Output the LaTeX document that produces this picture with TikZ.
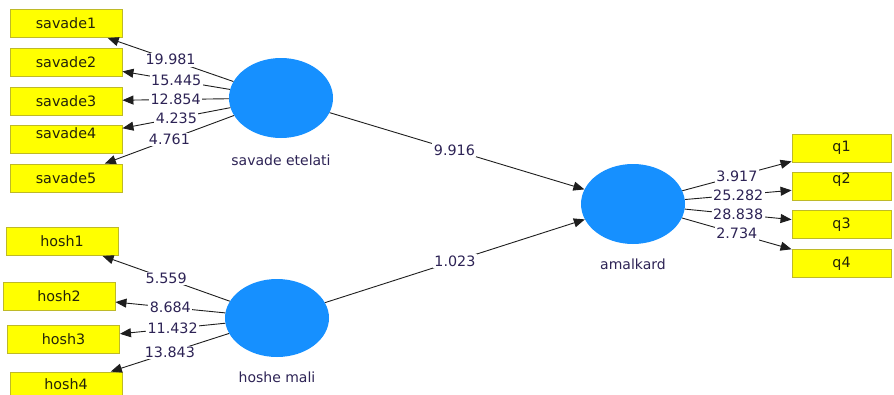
\documentclass[tikz,border=0pt]{standalone}
\usepackage{fontspec}
\setmainfont{DejaVu Sans}
\usetikzlibrary{shapes.geometric,arrows.meta}
\definecolor{boxfill}{RGB}{255,255,0}
\definecolor{boxline}{RGB}{190,185,40}
\definecolor{lvblue}{RGB}{22,144,255}
\definecolor{numcol}{RGB}{45,35,85}
\definecolor{boxtext}{RGB}{35,35,10}
\definecolor{linecol}{RGB}{30,30,30}
\begin{document}
\begin{tikzpicture}[x=1pt,y=-1pt,
  ind/.style={draw=boxline, fill=boxfill, line width=0.9pt, minimum height=28pt,
    inner sep=0pt, font=\fontsize{14.3pt}{16pt}\selectfont, text=boxtext},
  indl/.style={ind, minimum width=112pt},
  indr/.style={ind, minimum width=99pt},
  lv/.style={ellipse, fill=lvblue, draw=none, minimum width=104pt, minimum height=80pt, inner sep=0pt},
  lvname/.style={font=\fontsize{14pt}{16pt}\selectfont, text=numcol, inner sep=0pt},
  num/.style={fill=white, inner sep=1.5pt, font=\fontsize{14.3pt}{16pt}\selectfont, text=numcol},
  arr/.style={draw=linecol, line width=0.9pt, -{Triangle[length=11pt,width=9pt]}}
]
\useasboundingbox (0,0) rectangle (894,394);
\clip (0,0) rectangle (894,394);
\fill[white] (0,0) rectangle (894,394);

% indicator boxes, left top
\node[indl] (s1) at (66,23.5) {savade1};
\node[indl] (s2) at (66,62) {savade2};
\node[indl] (s3) at (66,101) {savade3};
\node[indl] (s4) at (66,139) {\raisebox{6pt}[\height][\depth]{savade4}};
\node[indl] (s5) at (66,178) {savade5};

% indicator boxes, left bottom
\node[indl] (h1) at (62,241.5) {hosh1};
\node[indl] (h2) at (59,296.5) {hosh2};
\node[indl] (h3) at (63.5,339.5) {hosh3};
\node[indl] (h4) at (66,386) {\raisebox{2pt}[\height][\depth]{hosh4}};

% indicator boxes, right
\node[indr] (q1) at (841.5,148) {q1};
\node[indr] (q2) at (841.5,186) {\raisebox{6pt}[\height][\depth]{q2}};
\node[indr] (q3) at (841.5,224.5) {q3};
\node[indr] (q4) at (841.5,263.5) {q4};

% latent variables
\node[lv] (se) at (281,98) {};
\node[lv, minimum height=78pt] (hm) at (277,318) {};
\node[lv] (am) at (633,204) {};
\node[lvname] (sel) at (281,160) {savade etelati};
\node[lvname] (hml) at (277,377) {hoshe mali};
\node[lvname] (aml) at (633,264) {amalkard};

% outer loadings
\draw[arr] (se) -- node[num]{19.981} (s1);
\draw[arr] (se) -- node[num]{15.445} (s2);
\draw[arr] (se) -- node[num]{12.854} (s3);
\draw[arr] (se) -- node[num]{4.235} (s4);
\draw[arr] (se) -- node[num]{4.761} (s5);

\draw[arr] (hm) -- node[num]{5.559} (h1);
\draw[arr] (hm) -- node[num]{8.684} (h2);
\draw[arr] (hm) -- node[num]{11.432} (h3);
\draw[arr] (hm) -- node[num]{13.843} (h4);

\draw[arr] (am) -- node[num]{3.917} (q1);
\draw[arr] (am) -- node[num]{25.282} (q2);
\draw[arr] (am) -- node[num]{28.838} (q3);
\draw[arr] (am) -- node[num]{2.734} (q4);

% inner paths
\draw[arr] (se) -- node[num, pos=0.49]{9.916} (am);
\draw[arr] (hm) -- node[num]{1.023} (am);
\end{tikzpicture}
\end{document}
